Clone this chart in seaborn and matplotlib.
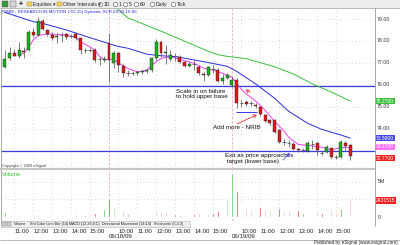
import numpy as np
import pandas as pd
import matplotlib
matplotlib.use("Agg")
import matplotlib.pyplot as plt
import matplotlib.transforms as mtrans
from matplotlib.patches import Rectangle, FancyArrowPatch
from matplotlib.lines import Line2D
import seaborn as sns

sns.set_style("white")
FONT = ['Liberation Sans Narrow', 'Liberation Sans', 'DejaVu Sans']
plt.rcParams['font.family'] = FONT

# ---------------- data (15-minute bars, 06/17 10:30 -> 06/19 15:45) ----------------
opens = [76.80, 77.21, 77.44, 77.33, 77.55, 77.59, 78.42, 78.27, 78.92, 78.50,
         78.27, 78.20, 78.26, 78.30, 78.24, 78.30, 78.12, 77.60, 77.58, 77.59,
         77.17, 77.12, 77.90, 76.99, 77.44, 76.86, 76.55, 76.54, 76.55, 76.58,
         76.62, 76.68, 77.21, 77.97, 77.45, 77.17, 77.30, 77.29, 77.06, 76.86,
         76.95, 76.83, 76.50, 76.45, 76.72, 76.68, 76.20, 76.33, 76.00, 76.23,
         75.17, 75.22, 75.15, 75.10, 75.01, 74.64, 74.40, 74.41, 73.95, 73.42,
         73.35, 73.32, 73.08, 73.04, 73.01, 73.32, 73.35, 72.93, 72.97, 73.12,
         72.75, 72.74, 73.38, 73.27]
highs = [77.59, 77.71, 77.65, 77.97, 77.73, 78.48, 78.60, 79.10, 79.00, 78.55,
         78.40, 78.35, 78.40, 78.38, 78.33, 78.40, 78.15, 77.70, 77.70, 77.70,
         77.25, 77.30, 78.38, 77.55, 77.50, 76.95, 76.70, 76.65, 76.65, 76.70,
         76.75, 77.25, 78.10, 78.00, 77.80, 77.60, 77.45, 77.35, 77.10, 77.05,
         77.15, 76.90, 76.60, 76.85, 76.90, 76.75, 76.50, 76.55, 76.35, 76.30,
         75.30, 75.30, 75.28, 75.20, 75.05, 74.70, 74.45, 74.45, 74.00, 73.55,
         73.50, 73.40, 73.15, 73.12, 73.45, 73.50, 73.40, 73.00, 73.25, 73.15,
         72.80, 73.50, 73.45, 73.30]
lows = [76.76, 77.14, 77.30, 77.21, 77.21, 77.55, 78.20, 78.25, 78.50, 78.25,
        78.05, 77.90, 77.95, 78.10, 78.15, 78.05, 77.40, 77.45, 77.50, 77.05,
        76.90, 77.05, 76.15, 76.75, 76.60, 76.35, 76.40, 76.45, 76.45, 76.50,
        76.55, 76.60, 77.15, 77.25, 76.95, 77.10, 77.10, 77.00, 76.80, 76.80,
        76.70, 76.45, 76.20, 76.40, 76.55, 76.15, 76.05, 76.25, 75.90, 74.95,
        75.00, 75.05, 75.05, 74.95, 74.60, 74.30, 74.20, 73.80, 73.35, 73.25,
        73.20, 73.05, 72.95, 72.95, 72.95, 73.10, 72.80, 72.80, 72.90, 72.70,
        72.65, 72.70, 73.00, 72.60]
closes = [77.17, 77.44, 77.33, 77.59, 77.52, 78.42, 78.27, 78.92, 78.53, 78.32,
          78.15, 78.23, 78.27, 78.20, 78.26, 78.12, 77.59, 77.59, 77.60, 77.14,
          77.15, 77.20, 77.14, 77.44, 76.91, 76.53, 76.53, 76.55, 76.58, 76.62,
          76.68, 77.21, 77.97, 77.47, 77.50, 77.36, 77.32, 77.06, 76.86, 76.97,
          76.93, 76.56, 76.45, 76.83, 76.70, 76.20, 76.33, 76.45, 76.23, 75.17,
          75.15, 75.14, 75.17, 75.05, 74.68, 74.36, 74.25, 73.88, 73.42, 73.40,
          73.37, 73.08, 73.05, 73.06, 73.35, 73.30, 73.05, 72.92, 73.20, 72.74,
          72.74, 73.42, 73.24, 72.77]
volumes_m = [0.74, 0.32, 0.32, 0.25, 0.23, 0.42, 0.46, 0.42, 0.19, 0.19,
             0.08, 0.20, 0.28, 0.28, 0.10, 0.42, 0.56, 0.23, 0.46, 0.60,
             0.93, 1.10, 2.73, 1.44, 1.34, 0.88, 0.42, 0.28, 0.50, 0.15,
             0.20, 0.50, 1.10, 0.88, 0.74, 0.55, 0.42, 0.28, 0.28, 0.42,
             0.37, 0.65, 0.88, 0.50, 0.60, 0.88, 1.70, 2.73, 6.20, 3.66,
             1.80, 1.10, 1.00, 0.50, 1.39, 1.20, 1.00, 1.57, 1.34, 0.74,
             0.88, 0.88, 0.97, 0.55, 1.25, 0.42, 0.88, 0.55, 0.50, 1.10,
             0.60, 1.10, 0.97, 2.36]
vol_codes = list("GgrGgGrgRRrggRgrrRrRrGRgrrGgGggGgrrgRRrgRrrgRRGgGRGrgRRrgrRrrrRGgrrRRrrGRr")

# moving averages (bar index -> value)
fast_idx = [3, 4, 5, 6, 7, 9, 11, 13, 15, 16, 17, 19, 20, 21, 23, 24, 26, 28, 30, 31,
            33, 35, 37, 40, 42, 44, 46, 48, 50, 51, 53, 55, 57, 59, 60, 62, 65, 67, 69, 71, 73]
fast_val = [77.35, 77.45, 77.72, 78.05, 78.25, 78.32, 78.30, 78.27, 78.17, 77.95,
            77.85, 77.60, 77.30, 77.15, 77.17, 77.00, 76.75, 76.60, 76.65, 76.90,
            77.21, 77.29, 77.16, 76.99, 76.76, 76.68, 76.53, 76.35, 75.80, 75.60,
            75.27, 74.85, 74.35, 73.90, 73.62, 73.30, 73.23, 73.17, 73.05, 73.15, 73.17]
slow_idx = [0, 1, 6, 8, 13, 18, 22, 24, 26, 30, 33, 36, 40, 43, 47, 49, 53, 57, 60, 64, 67, 71, 73]
slow_val = [79.30, 79.23, 78.88, 78.80, 78.50, 78.15, 77.88, 77.75, 77.67, 77.40, 77.33,
            77.29, 77.14, 77.02, 76.85, 76.62, 76.05, 75.40, 74.80, 74.26, 73.98, 73.73, 73.58]
mid_idx = [23, 26, 31, 35, 39, 43, 45, 47, 51, 57, 61, 65, 69, 73]
mid_val = [79.60, 79.05, 78.62, 78.27, 77.90, 77.53, 77.38, 77.30, 77.20, 76.83,
           76.50, 76.05, 75.68, 75.27]

upper_base = 75.95
lower_base = 73.00
nrib_level = 74.78

hour_idx = [2, 6, 10, 14, 18, 24, 28, 32, 36, 40, 44, 50, 54, 58, 62, 66, 70]
hour_lbl = ["11:00", "12:00", "13:00", "14:00", "15:00",
            "10:00", "11:00", "12:00", "13:00", "14:00", "15:00",
            "10:00", "11:00", "12:00", "13:00", "14:00", "15:00"]
day_idx = [22, 48]
day_lbl = ["06/18/09", "06/19/09"]
price_ticks = [74, 75, 76, 77, 78, 79]

# ---------------- figure ----------------
W, H = 400, 245
fig = plt.figure(figsize=(W / 100, H / 100), dpi=100)
fig.patch.set_facecolor("white")


def box(l, t, r, b):
    return [l / W, 1 - b / H, (r - l) / W, (b - t) / H]


def fy(py):
    return 1 - py / H


ax_p = fig.add_axes(box(1, 9, 375, 169))
ax_v = fig.add_axes(box(1, 170, 375, 221), sharex=ax_p)

bars = pd.DataFrame({"o": opens, "h": highs, "l": lows, "c": closes,
                     "v": volumes_m, "code": vol_codes})
bars["i"] = np.arange(len(bars))

GREEN = "#19b419"
RED = "#e01818"
grid_kw = dict(color="#b8b8b8", lw=0.5, ls=(0, (1, 4)))

# price panel
for lvl in price_ticks:
    ax_p.axhline(lvl, **grid_kw, zorder=0)
for hx in hour_idx:
    ax_p.axvline(hx, **grid_kw, zorder=0)
    ax_v.axvline(hx, **grid_kw, zorder=0)
for lvl in [2.5, 5]:
    ax_v.axhline(lvl, **grid_kw, zorder=0)
for d in day_idx:
    ax_p.axvline(d, color="#e8a8b0", lw=0.6, ls=(0, (3, 2)), zorder=0)
    ax_v.axvline(d, color="#e8a8b0", lw=0.6, ls=(0, (3, 2)), zorder=0)

ax_p.axhline(upper_base, color="#3a3ae6", lw=0.9, zorder=1)
ax_p.axhline(lower_base, color="#3a3ae6", lw=0.9, zorder=1)
ax_p.hlines(nrib_level, 48.8, 53.3, color="#3a3ae6", lw=0.7, zorder=1)

# moving averages via seaborn
sns.lineplot(x=mid_idx, y=mid_val, ax=ax_p, color="#3cc03c", lw=0.7, estimator=None, sort=False, zorder=2)
sns.lineplot(x=slow_idx, y=slow_val, ax=ax_p, color="#2a2ae0", lw=0.7, estimator=None, sort=False, zorder=2)
sns.lineplot(x=fast_idx, y=fast_val, ax=ax_p, color="#f040f0", lw=0.7, estimator=None, sort=False, zorder=2)

# candles
ax_p.vlines(bars["i"], bars["l"], bars["h"], color="#5a5a5a", lw=0.55, zorder=3)
for _, r in bars.iterrows():
    lo, hi = min(r.o, r.c), max(r.o, r.c)
    if hi - lo < 0.03:
        ax_p.hlines((r.o + r.c) / 2, r.i - 0.35, r.i + 0.35, color="#555555", lw=0.6, zorder=4)
        continue
    col = GREEN if r.c > r.o else RED
    ax_p.bar(r.i, hi - lo, bottom=lo, width=0.62, color=col, edgecolor="#222222",
             linewidth=0.3, zorder=4)

# volume
vcol = {"G": "#3cc03c", "g": "#b4e4b4", "R": "#e82828", "r": "#f7b4b4"}
ax_v.bar(bars["i"], bars["v"], width=0.36, color=[vcol[c] for c in bars["code"]], zorder=3)

ax_p.set_xlim(-0.83, 78.24)
ax_p.set_ylim(72.18, 79.455)
ax_v.set_ylim(-0.56, 6.67)

for ax in (ax_p, ax_v):
    ax.set_xticks([])
    ax.set_yticks([])
    ax.set_xlabel("")
    ax.set_ylabel("")
    for s in ax.spines.values():
        s.set_color("#a8a8a8")
        s.set_linewidth(0.7)
ax_p.spines["top"].set_visible(False)
ax_p.spines["bottom"].set_color("#c4c4c4")
ax_p.spines["bottom"].set_linewidth(1.6)
ax_v.spines["top"].set_visible(False)
ax_v.spines["bottom"].set_visible(False)

# ---------------- annotations ----------------
TXT = dict(fontsize=4.5, color="#111111", family=FONT)
ax_p.text(36.2, 75.84, "Scale in on failure\nto hold upper base", va="top", ha="left",
          linespacing=1.05, **TXT)
ax_p.text(44.0, 74.05, "Add more - NRIB", va="center", ha="left", **TXT)
ax_p.text(46.5, 72.66, "Exit as price approaches\n target (lower base)", va="center", ha="left",
          linespacing=1.05, **TXT)
ax_p.add_patch(FancyArrowPatch((52.3, 75.60), (50.4, 75.86), arrowstyle="->,head_length=2,head_width=1.2",
                               color="#f03030", lw=0.6, zorder=6))
ax_p.add_patch(FancyArrowPatch((48.6, 74.18), (53.8, 74.70), arrowstyle="->,head_length=2,head_width=1.2",
                               color="#f03030", lw=0.6, zorder=6))
ax_p.add_patch(FancyArrowPatch((58.4, 72.50), (60.6, 73.00), arrowstyle="->,head_length=2,head_width=1.2",
                               color="#4040f0", lw=0.6, ls=(0, (1.5, 1)), zorder=6))

# title inside price panel
fig.text(2 / W, fy(12.5), "RIMM - RESEARCH IN MOTION LTD,15) Dynamic,SCR,09:30-16:00",
         fontsize=3.2, color="#2a2ad8", va="center", ha="left")
fig.text(2 / W, fy(165.5), "Copyright \u00a9 2009 eSignal", fontsize=2.8, color="#444444",
         va="center", ha="left")
fig.text(2 / W, fy(174.5), "Volume", fontsize=4.2, color="#3cc03c", va="center", ha="left")

# right axis labels
bt_p = mtrans.blended_transform_factory(fig.transFigure, ax_p.transData)
for lvl in price_ticks:
    ax_p.text(377 / W, lvl, f"{lvl:.2f}", transform=bt_p, fontsize=3.8, color="#333333",
              va="center", ha="left", clip_on=False)
last_vals = [(mid_val[-1], "#3cc03c", "white"), (slow_val[-1], "#4848e0", "white"),
             (fast_val[-1], "#ff70ff", "white"), (closes[-1], "#f02020", "white")]
label_y = [mid_val[-1], slow_val[-1], fast_val[-1] + 0.02, closes[-1] - 0.1]
for (val, bg, fg), yy in zip(last_vals, label_y):
    ax_p.text(376 / W, yy, f"{val:.4f}", transform=bt_p, fontsize=3.6, color=fg, va="center",
              ha="left", clip_on=False,
              bbox=dict(boxstyle="square,pad=0.12", fc=bg, ec="none"))

bt_v = mtrans.blended_transform_factory(fig.transFigure, ax_v.transData)
ax_v.text(378 / W, 5, "5M", transform=bt_v, fontsize=3.8, color="#333333", va="center", ha="left")
ax_v.text(378 / W, 0, "0", transform=bt_v, fontsize=3.8, color="#333333", va="center", ha="left")
ax_v.text(376 / W, volumes_m[-1], f"{int(volumes_m[-1] * 1e6 + 71515):d}", transform=bt_v,
          fontsize=3.6, color="white", va="center", ha="left",
          bbox=dict(boxstyle="square,pad=0.12", fc="#f02020", ec="none"))

# time axis labels
bt_x = mtrans.blended_transform_factory(ax_v.transData, fig.transFigure)
for hx, lb in zip(hour_idx, hour_lbl):
    ax_v.text(hx, fy(231), lb, transform=bt_x, fontsize=4.4, color="#222222", va="center", ha="left")
for dx, lb in zip(day_idx, day_lbl):
    ax_v.text(dx, fy(236.8), lb, transform=bt_x, fontsize=4.4, color="#222222", va="center", ha="left")

# ---------------- chrome: toolbar, tabs, footer ----------------
fig.patches.append(Rectangle((0, fy(8.5)), 1, 8.5 / H, transform=fig.transFigure,
                             fc="#ededed", ec="none", zorder=-1))
fig.add_artist(Line2D([0, 1], [fy(8.5), fy(8.5)], transform=fig.transFigure, color="#b0b0b0", lw=0.6))
fig.add_artist(Line2D([375 / W, 375 / W], [fy(8.5), fy(226)], transform=fig.transFigure,
                      color="#a8a8a8", lw=0.7))
tb = dict(fontsize=3.7, color="#222222", va="center", ha="left")
fig.patches.append(Rectangle((2 / W, fy(7.5)), 6 / W, 6 / H, transform=fig.transFigure, fc="#3a9a3a", ec="#555555", lw=0.3))
fig.patches.append(Rectangle((10 / W, fy(7.5)), 6 / W, 6 / H, transform=fig.transFigure, fc="#d8d8d8", ec="#555555", lw=0.3))
fig.text(19 / W, fy(4.3), "+", fontsize=5, color="#111111", va="center", ha="left", weight="bold")
for x0, lb in [(27, "Equities"), (57, "Other Intervals")]:
    fig.patches.append(Rectangle((x0 / W, fy(6.5)), 5 / W, 4 / H, transform=fig.transFigure,
                                 fc="#f0d060", ec="#a08020", lw=0.3))
    fig.text((x0 + 6) / W, fy(4.5), lb + " \u25be", **tb)
for x0, lb in [(100, "1D"), (115, "1"), (125, "5"), (136, "60"), (152, "Daily"), (173, "Tick")]:
    fig.add_artist(Line2D([x0 / W], [fy(4.5)], transform=fig.transFigure, marker="o", ms=3.2,
                          mfc="white", mec="#555555", mew=0.4))
    fig.text((x0 + 3.5) / W, fy(4.5), lb, **tb)

fig.patches.append(Rectangle((1 / W, fy(226.5)), 189 / W, 5.5 / H, transform=fig.transFigure,
                             fc="#eeeeee", ec="#b0b0b0", lw=0.4))
for x0 in [2, 7]:
    fig.patches.append(Rectangle((x0 / W, fy(226)), 4 / W, 4.5 / H, transform=fig.transFigure,
                                 fc="#d0d0d0", ec="#777777", lw=0.3))
for x0, lb in [(14, "Volume"), (30, "Std Color Line Bar (14)"), (69, "MACD (12,26,9,C)"),
               (102, "Directional Movement (14,14)"), (154, "Stochastic (5,3,3)")]:
    fig.text(x0 / W, fy(223.8), lb, fontsize=2.7, color="#222222", va="center", ha="left")

fig.add_artist(Line2D([0, 1], [fy(239.5), fy(239.5)], transform=fig.transFigure, color="#b0b0b0", lw=0.6))
fig.text(398 / W, fy(242.3), "Published by eSignal (www.esignal.com)", fontsize=3.3, color="#222222",
         va="center", ha="right")

fig.savefig("out.png", dpi=100, facecolor="white")
